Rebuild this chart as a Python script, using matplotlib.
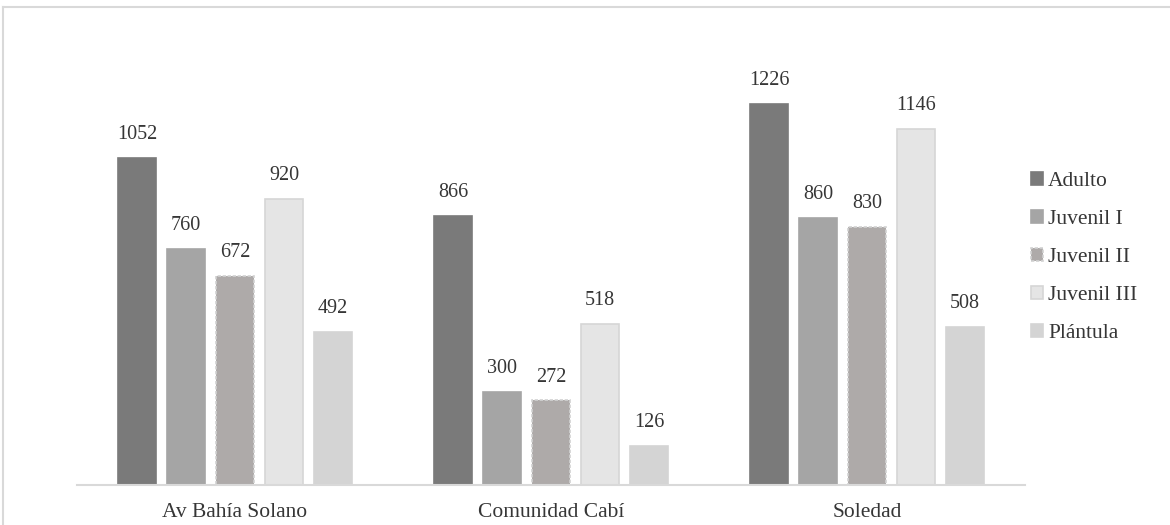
import numpy as np
import matplotlib
matplotlib.use("Agg")
import matplotlib.pyplot as plt
from matplotlib.lines import Line2D

#Datos por sitio y estadio

sitios = ["Av Bahía Solano", "Comunidad Cabí", "Soledad"]
estadios = ["Adulto", "Juvenil I", "Juvenil II", "Juvenil III", "Plántula"]
adulto = [1052, 866, 1226]
juvenil_1 = [760, 300, 860]
juvenil_2 = [672, 272, 830]
juvenil_3 = [920, 518, 1146]
plantula = [492, 126, 508]

valores = [adulto, juvenil_1, juvenil_2, juvenil_3, plantula]
colores = ["#7a7a7a", "#a5a5a5", "#aeaaa9", "#e5e5e5", "#d4d4d4"]
bordes = ["#7a7a7a", "#a5a5a5", "#d2d2d2", "#d6d6d6", "#d4d4d4"]
estilos = ["solid", "solid", (0, (2, 1)), "solid", "solid"]

plt.rcParams['font.family'] = ['Liberation Serif', 'DejaVu Serif']
texto = "#363636"

fig = plt.figure(figsize=(11.7, 5.25), dpi=100)
ax = fig.add_axes([77/1170, 40/525, 948/1170, 435/525])

x = np.arange(len(sitios))
ancho = 0.12
paso = 0.155
for i, (nombre, vals) in enumerate(zip(estadios, valores)):
    pos = x + (i - 2) * paso
    barras = ax.bar(pos, vals, width=ancho, color=colores[i], edgecolor=bordes[i],
                    linewidth=1.2, linestyle=estilos[i], label=nombre)
    for b, v in zip(barras, vals):
        ax.annotate(str(v), (b.get_x() + b.get_width() / 2, v), xytext=(0, 10),
                    textcoords="offset points", ha="center", va="bottom",
                    fontsize=14.5, color=texto)

ax.set_xlim(-0.5, 2.5)
ax.set_ylim(0, 1400)
ax.set_xticks(x)
ax.set_xticklabels(sitios, fontsize=15.5, color=texto)
ax.tick_params(axis="x", length=0, pad=13)
ax.set_yticks([])
for s in ["top", "right", "left"]:
    ax.spines[s].set_visible(False)
ax.spines["bottom"].set_color("#d9d9d9")
ax.spines["bottom"].set_linewidth(1.5)

leg = fig.legend(loc="center left", bbox_to_anchor=(0.872, 0.51), frameon=False,
                 fontsize=15.5, handlelength=0.55, handleheight=0.55,
                 handletextpad=0.25, labelspacing=0.88, borderpad=0)
for t in leg.get_texts():
    t.set_color(texto)

#Marco del grafico
fig.add_artist(Line2D([3/1170, 3/1170], [0, 1 - 7/525], transform=fig.transFigure,
                      color="#d9d9d9", linewidth=1.5))
fig.add_artist(Line2D([3/1170, 1], [1 - 7/525, 1 - 7/525], transform=fig.transFigure,
                      color="#d9d9d9", linewidth=1.5))

fig.savefig("out.png", dpi=100, facecolor="white")
